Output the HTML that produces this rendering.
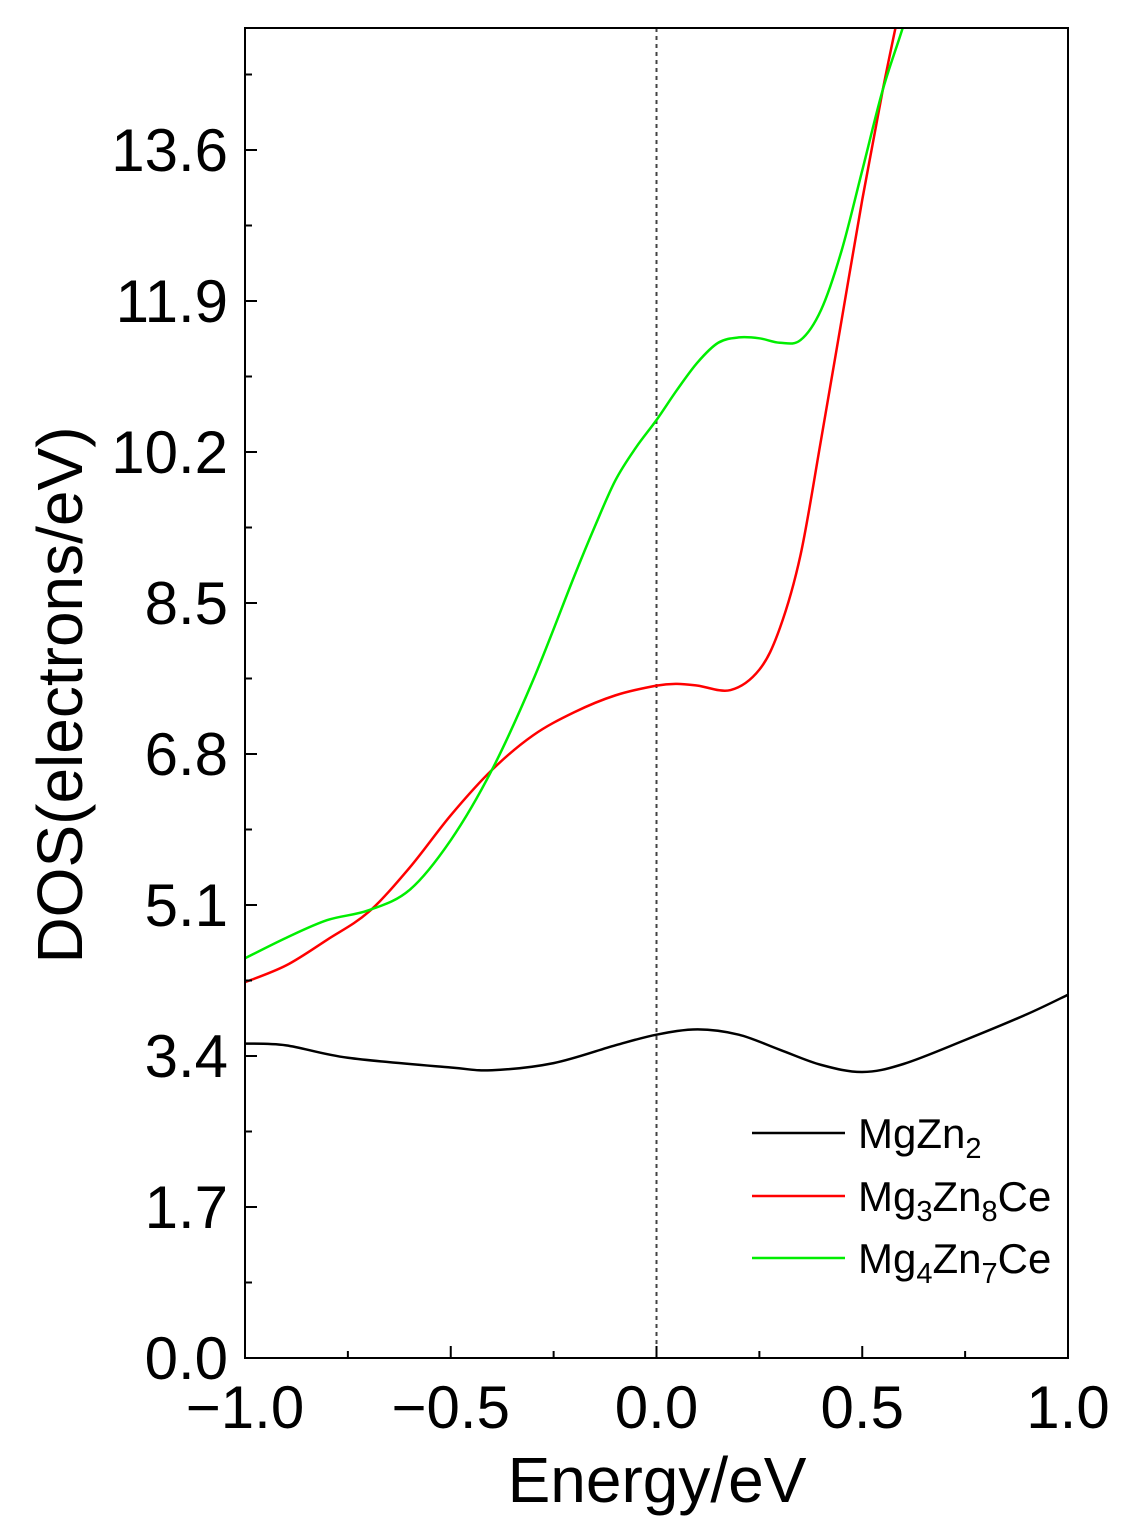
<!DOCTYPE html>
<html><head><meta charset="utf-8"><style>
html,body{margin:0;padding:0;background:#fff;}
svg{display:block;font-family:"Liberation Sans",Arial,sans-serif;}
</style></head><body>
<svg id="chart" width="1131" height="1535" viewBox="0 0 1131 1535">
<defs><clipPath id="clip"><rect x="245" y="28" width="823" height="1330"/></clipPath></defs>
<g id="grid"></g>
<g id="series" clip-path="url(#clip)"></g>
<rect x="245" y="28" width="823" height="1330" fill="none" stroke="#000" stroke-width="2"/>
<g id="axes"></g>
<text x="657" y="1502" font-size="64" text-anchor="middle">Energy/eV</text>
<text transform="translate(82,695) rotate(-90)" font-size="64" text-anchor="middle">DOS(electrons/eV)</text>
<g>
<line x1="752" y1="1133" x2="845" y2="1133" stroke="#000" stroke-width="2.5"/>
<text x="858" y="1148" font-size="42">MgZn<tspan font-size="29" dy="10">2</tspan></text>
<line x1="752" y1="1196" x2="845" y2="1196" stroke="#ff0000" stroke-width="2.5"/>
<text x="858" y="1211" font-size="42">Mg<tspan font-size="29" dy="10">3</tspan><tspan dy="-10">Zn</tspan><tspan font-size="29" dy="10">8</tspan><tspan dy="-10">Ce</tspan></text>
<line x1="752" y1="1258" x2="845" y2="1258" stroke="#00ee00" stroke-width="2.5"/>
<text x="858" y="1273" font-size="42">Mg<tspan font-size="29" dy="10">4</tspan><tspan dy="-10">Zn</tspan><tspan font-size="29" dy="10">7</tspan><tspan dy="-10">Ce</tspan></text>
</g>
</svg>
<script>
const xTickLabels=["\u22121.0","\u22120.5","0.0","0.5","1.0"];
const xTickValues=[-1,-0.5,0,0.5,1];
const yTickLabels=["0.0","1.7","3.4","5.1","6.8","8.5","10.2","11.9","13.6"];
const yTickValues=[0,1.7,3.4,5.1,6.8,8.5,10.2,11.9,13.6];
const blackE=[-1,-0.9,-0.75,-0.5,-0.4,-0.25,-0.1,0,0.1,0.2,0.3,0.4,0.5,0.6,0.75,0.9,1.0];
const blackDOS=[3.54,3.52,3.38,3.27,3.24,3.32,3.52,3.64,3.70,3.64,3.47,3.30,3.22,3.31,3.58,3.87,4.09];
const redE=[-1,-0.9,-0.8,-0.7,-0.6,-0.5,-0.4,-0.3,-0.2,-0.1,0,0.05,0.1,0.18,0.25,0.3,0.35,0.4,0.45,0.5,0.55,0.6];
const redDOS=[4.23,4.42,4.71,5.02,5.52,6.11,6.62,7.01,7.27,7.46,7.57,7.59,7.57,7.52,7.75,8.22,9.04,10.34,11.69,13.04,14.28,15.4];
const greenE=[-1,-0.9,-0.8,-0.7,-0.6,-0.5,-0.4,-0.3,-0.2,-0.15,-0.1,-0.05,0,0.05,0.1,0.15,0.2,0.25,0.3,0.35,0.4,0.45,0.5,0.55,0.6,0.65];
const greenDOS=[4.50,4.73,4.93,5.04,5.27,5.83,6.62,7.63,8.80,9.36,9.88,10.25,10.56,10.90,11.21,11.43,11.49,11.48,11.43,11.46,11.80,12.47,13.37,14.28,15.0,15.8];
const X0=245,X1=1068,YB=1358,PPU=151/1.7;
const xs=v=>X0+(v+1)/2*(X1-X0);
const ys=v=>YB-v*PPU;
const NS="http://www.w3.org/2000/svg";
function mk(tag,attrs,parent){const e=document.createElementNS(NS,tag);for(const k in attrs)e.setAttribute(k,attrs[k]);parent.appendChild(e);return e;}
const axes=document.getElementById('axes');
xTickValues.forEach((v,i)=>{
  const l=mk('line',{x1:xs(v),x2:xs(v),y1:YB,y2:YB-12,stroke:'#000','stroke-width':2},axes);
  
  
  const t=mk('text',{x:xs(v),y:1428,'font-size':60,'text-anchor':'middle'},axes);
  t.textContent=xTickLabels[i];
  
  
});
for(let v=-0.75;v<1;v+=0.5){
  const l=mk('line',{x1:xs(v),x2:xs(v),y1:YB,y2:YB-7,stroke:'#000','stroke-width':2},axes);
  
  
}
yTickValues.forEach((v,i)=>{
  const l=mk('line',{x1:X0,x2:X0+12,y1:ys(v),y2:ys(v),stroke:'#000','stroke-width':2},axes);
  
  
  const t=mk('text',{x:228,y:ys(v)+21,'font-size':60,'text-anchor':'end'},axes);
  t.textContent=yTickLabels[i];
  
  
  const m=ys(v+0.85);
  if(m>30){
    const l2=mk('line',{x1:X0,x2:X0+7,y1:m,y2:m,stroke:'#000','stroke-width':2},axes);
    
    
  }
});
const ref=mk('line',{x1:xs(0),x2:xs(0),y1:28,y2:YB,stroke:'#444','stroke-width':2,'stroke-dasharray':'4,4'},document.getElementById('series'));


function smooth(E,D){
  const p=E.map((e,i)=>[xs(e),ys(D[i])]);
  let d=`M${p[0][0]},${p[0][1]}`;
  for(let i=0;i<p.length-1;i++){
    const a=p[i-1]||p[i],b=p[i],c=p[i+1],e=p[i+2]||c;
    d+=` C${b[0]+(c[0]-a[0])/6},${b[1]+(c[1]-a[1])/6} ${c[0]-(e[0]-b[0])/6},${c[1]-(e[1]-b[1])/6} ${c[0]},${c[1]}`;
  }
  return d;
}
const g=document.getElementById('series');
const s1=mk('path',{d:smooth(blackE,blackDOS),fill:'none',stroke:'#000','stroke-width':2.5},g);


const s2=mk('path',{d:smooth(redE,redDOS),fill:'none',stroke:'#ff0000','stroke-width':2.5},g);


const s3=mk('path',{d:smooth(greenE,greenDOS),fill:'none',stroke:'#00ee00','stroke-width':2.5},g);


</script>
</body></html>
